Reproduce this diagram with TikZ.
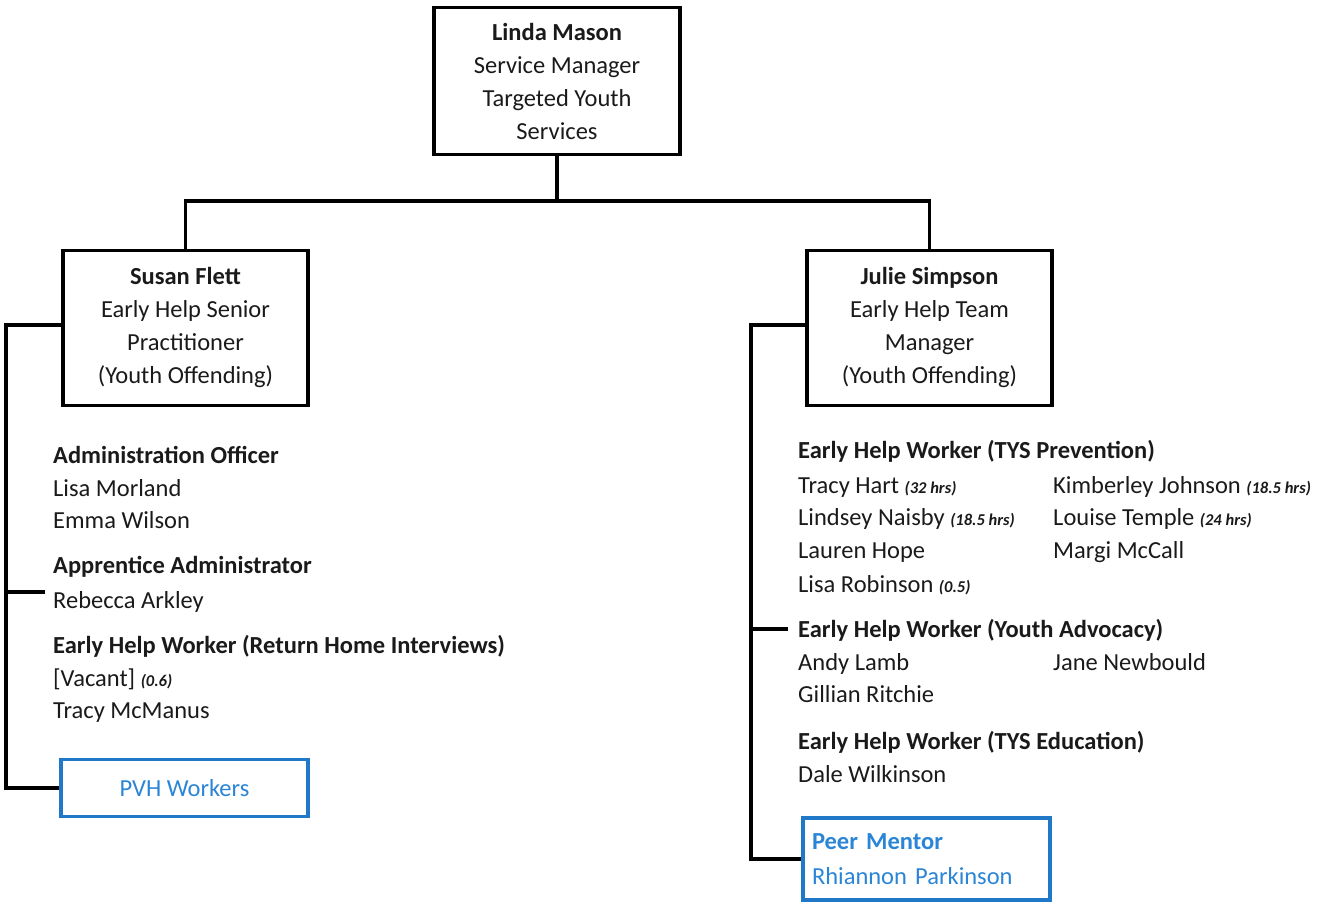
\documentclass[tikz,border=0pt]{standalone}
\usepackage{fontspec}
\setmainfont{Carlito}
\newcommand\bigf{\fontsize{24.5}{33}\selectfont}
\newcommand\hrsf{\fontsize{16.5}{20}\selectfont\bfseries\itshape}
\definecolor{boxblue}{HTML}{1F78C8}
\definecolor{txtblue}{HTML}{2A85D6}
\definecolor{ink}{HTML}{1A1A1A}
\tikzset{
  mgrbox/.style={draw=black, line width=3.6pt, align=center, font=\bigf, text=ink, inner sep=0pt},
  bluebox/.style={draw=boxblue, line width=3.4pt, font=\bigf, text=txtblue, inner sep=0pt},
  lbl/.style={anchor=base west, inner sep=0pt, font=\bigf, text=ink},
  conn/.style={draw=black, line width=3.4pt},
}
\begin{document}
\begin{tikzpicture}[x=1pt, y=-1pt]
\useasboundingbox (0,0) rectangle (1320,903);
% manager boxes
\node[mgrbox, minimum width=246, minimum height=147] (top) at (557,81)
  {\textbf{Linda Mason}\\Service Manager\\Targeted Youth\\Services};
\node[mgrbox, minimum width=245, minimum height=155] (susan) at (185.5,328)
  {\textbf{Susan Flett}\\Early Help Senior\\Practitioner\\(Youth Offending)};
\node[mgrbox, minimum width=245, minimum height=155] (julie) at (929.5,328)
  {\textbf{Julie Simpson}\\Early Help Team\\Manager\\(Youth Offending)};
% blue boxes
\node[bluebox, minimum width=247, minimum height=57] (pvh) at (184.5,788) {PVH Workers};
\node[bluebox, minimum width=247, minimum height=82, align=left, text width=229, inner xsep=9pt,
      font=\fontsize{24.5}{35}\selectfont] (peer) at (926.5,859)
  {\textbf{Peer Mentor}\\Rhiannon Parkinson};
% left list
\node[lbl] (ao) at (53,463) {\textbf{Administration Officer}};
\node[lbl] (lm) at (53,496) {Lisa Morland};
\node[lbl] (ew) at (53,528) {Emma Wilson};
\node[lbl] (aa) at (53,573) {\textbf{Apprentice Administrator}};
\node[lbl] (ra) at (53,608) {Rebecca Arkley};
\node[lbl] (rhi) at (53,653) {\textbf{Early Help Worker (Return Home Interviews)}};
\node[lbl] (vac) at (53,686) {[Vacant] {\hrsf (0.6)}};
\node[lbl] (tm) at (53,718) {Tracy McManus};
% right list
\node[lbl] (tysp) at (798,458) {\textbf{Early Help Worker (TYS Prevention)}};
\node[lbl] (th) at (798,493) {Tracy Hart {\hrsf (32 hrs)}};
\node[lbl] (ln) at (798,525) {Lindsey Naisby {\hrsf (18.5 hrs)}};
\node[lbl] (lh) at (798,558) {Lauren Hope};
\node[lbl] (lr) at (798,592) {Lisa Robinson {\hrsf (0.5)}};
\node[lbl] (kj) at (1053,493) {Kimberley Johnson {\hrsf (18.5 hrs)}};
\node[lbl] (lt) at (1053,525) {Louise Temple {\hrsf (24 hrs)}};
\node[lbl] (mm) at (1053,558) {Margi McCall};
\node[lbl] (ya) at (798,637) {\textbf{Early Help Worker (Youth Advocacy)}};
\node[lbl] (al) at (798,670) {Andy Lamb};
\node[lbl] (jn) at (1053,670) {Jane Newbould};
\node[lbl] (gr) at (798,702) {Gillian Ritchie};
\node[lbl] (tyse) at (798,749) {\textbf{Early Help Worker (TYS Education)}};
\node[lbl] (dw) at (798,782) {Dale Wilkinson};
% connector coordinates
\coordinate (bus) at (557,201);
\coordinate (lcorner) at (6,325);
\coordinate (ltick) at (45,592);
\coordinate (rcorner) at (751,325);
\coordinate (rtick) at (788,629);
% connectors
\draw[conn] (top.south) -- (bus);
\draw[conn] (bus) -| (susan.north);
\draw[conn] (bus) -| (julie.north);
\draw[conn] (susan.west |- lcorner) -- (lcorner) |- (pvh.west);
\draw[conn] (lcorner |- ltick) -- (ltick);
\draw[conn] (julie.west |- rcorner) -- (rcorner) |- (peer.west);
\draw[conn] (rcorner |- rtick) -- (rtick);
\end{tikzpicture}
\end{document}
